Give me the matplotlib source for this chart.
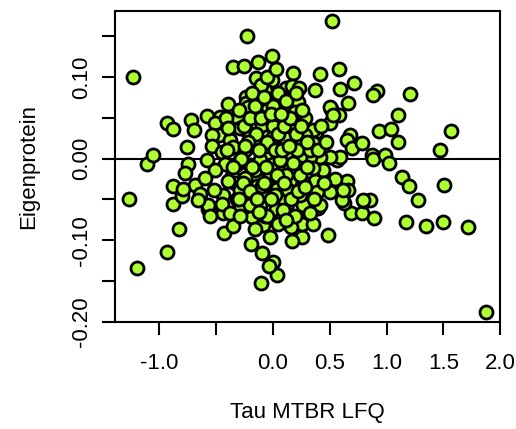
import matplotlib.pyplot as plt

# Tau MTBR LFQ (x) vs Eigenprotein (y)
tau_mtbr = [
    -1.232, -1.268, -1.197, -1.109, -1.056, -0.933, -0.933, -0.880, -0.827, -0.880,
    -0.880, -0.801, -0.757, -0.722, -0.695, -0.748, -0.775, -0.581, -0.396, -0.352,
    -0.255, -0.229, -0.581, -0.572, -0.431, -0.352, -0.194, -0.106, -0.097, 0.000,
    0.035, -0.035, -0.185, -0.088, -0.026, -0.449, -0.440, -0.290, -0.114, 0.026,
    0.255, 0.484, 0.255, 0.352, 0.158, 0.079, 0.123, 0.396, 0.687, 0.783,
    0.889, 0.625, 0.801, 1.171, 1.347, 1.496, 1.717, 1.875, 1.276, 0.915,
    0.880, 1.206, 1.100, 0.933, 1.039, 1.567, 1.100, 1.470, 0.871, 0.880,
    0.986, 1.021, 1.136, 1.197, 1.505, 0.854, 0.519, -0.009, -0.132, 0.176,
    0.414, 0.581, 0.713, 0.370, 0.590, 0.660, 0.511, 0.581, 0.502, 0.678,
    0.651, 0.695, 0.783, 0.379, 0.651, 0.660, 0.792, 0.502, 0.546, 0.414,
    0.370, 0.563, -0.009, -0.150, 0.114, 0.167, 0.229, 0.132, 0.220, 0.018,
    0.079, 0.282, 0.502, -0.238, -0.238, -0.114, -0.062, -0.053, 0.000, -0.158,
    -0.220, -0.467, -0.317, -0.511, -0.414, -0.475, -0.379, -0.537, -0.238, -0.070,
    -0.044, -0.132, -0.537, -0.449, -0.352, -0.246, -0.132, -0.044, -0.687, -0.792,
    -0.643, -0.572, -0.440, -0.449, -0.361, -0.335, -0.396, -0.317, -0.229, -0.141,
    -0.141, -0.053, -0.026, -0.044, -0.202, -0.317, -0.202, 0.528, 0.590, 0.502,
    0.414, 0.326, 0.440, 0.607, 0.616, 0.264, 0.387, 0.414, 0.150, 0.106,
    0.035, 0.106, 0.264, 0.035, 0.123, 0.220, 0.352, 0.150, 0.255, 0.352,
    0.000, 0.035, 0.150, 0.238, 0.000, 0.088, 0.238, 0.352, 0.176, -0.097,
    -0.097, 0.062, 0.167, -0.158, -0.070, 0.106, 0.211, -0.114, -0.026, 0.062,
    0.150, -0.158, -0.246, 0.018, 0.132, 0.238, -0.097, -0.202, -0.290, 0.106,
    0.194, 0.282, 0.326, -0.070, 0.088, 0.194, 0.326, 0.167, -0.290, -0.396,
    -0.290, -0.423, -0.511, -0.599, -0.660, -0.519, -0.555, -0.379, -0.158, -0.290,
    -0.070,
    # dense core
    -0.30, -0.25, -0.20, -0.15, -0.10, -0.05, 0.00, 0.05, 0.10, 0.15,
    0.20, 0.25, 0.30, -0.28, -0.22, -0.18, -0.12, -0.06, 0.02, 0.08,
    0.12, 0.18, 0.24, 0.30, -0.26, -0.20, -0.14, -0.08, -0.02, 0.04,
    0.10, 0.16, 0.22, 0.28, -0.10, 0.05, 0.12, -0.05, 0.20, 0.03,
    -0.18, -0.35, -0.40, -0.30, -0.05, 0.05, 0.12, -0.12, 0.40, 0.45,
    0.42, 0.36, 0.47, -0.02, 0.07, -0.16, 0.26, -0.08, 0.14, -0.24,
]
eigenprotein = [
    0.100, -0.050, -0.134, -0.006, 0.004, -0.114, 0.043, 0.036, -0.086, -0.034,
    -0.056, -0.046, 0.014, 0.047, 0.035, -0.007, -0.018, 0.052, 0.067, 0.112,
    0.113, 0.150, -0.002, -0.062, -0.091, -0.083, -0.104, -0.152, -0.116, -0.126,
    -0.143, -0.131, -0.072, -0.081, -0.096, -0.060, -0.066, -0.057, -0.057, -0.062,
    -0.096, -0.094, -0.080, -0.080, -0.084, -0.073, -0.055, -0.060, -0.066, -0.066,
    -0.073, -0.054, -0.052, -0.077, -0.083, -0.078, -0.084, -0.188, -0.051, 0.083,
    0.078, 0.079, 0.053, 0.034, 0.036, 0.034, 0.020, 0.011, 0.005, -0.001,
    0.005, -0.005, -0.022, -0.034, -0.032, -0.051, 0.168, 0.126, 0.118, 0.105,
    0.104, 0.110, 0.093, 0.084, 0.085, 0.068, 0.061, 0.053, 0.043, 0.029,
    0.023, 0.013, 0.019, 0.032, -0.027, -0.039, -0.051, -0.041, -0.025, -0.013,
    -0.027, -0.002, 0.096, 0.099, 0.086, 0.089, 0.086, 0.072, 0.069, 0.066,
    0.075, 0.050, 0.063, 0.075, 0.068, 0.077, 0.072, 0.059, 0.064, 0.062,
    0.063, 0.051, 0.051, 0.043, 0.050, 0.029, 0.023, 0.029, 0.035, 0.031,
    0.043, 0.053, 0.015, 0.008, 0.014, 0.010, 0.013, 0.007, -0.032, -0.037,
    -0.043, -0.057, -0.045, -0.055, -0.021, -0.030, -0.027, -0.049, -0.041, -0.021,
    -0.033, -0.014, -0.030, -0.045, -0.008, -0.006, 0.029, 0.053, 0.002, 0.002,
    0.002, 0.002, -0.014, -0.051, -0.039, -0.029, -0.041, -0.057, -0.027, -0.014,
    -0.037, -0.052, -0.057, 0.051, 0.051, 0.041, 0.035, 0.020, 0.019, 0.019,
    0.026, 0.010, 0.002, 0.002, -0.006, -0.014, -0.011, -0.012, -0.043, -0.044,
    0.041, 0.037, 0.035, 0.022, 0.016, 0.025, 0.010, -0.002, -0.021, -0.002,
    -0.012, -0.014, -0.024, -0.045, -0.039, -0.045, -0.033, -0.057, -0.039, 0.057,
    0.057, 0.029, 0.010, -0.070, -0.063, -0.070, -0.066, -0.101, 0.037, 0.037,
    -0.002, -0.006, -0.014, -0.024, -0.051, -0.039, -0.070, -0.066, -0.086, -0.070,
    0.084,
    # dense core
    0.060, 0.040, 0.050, 0.030, 0.050, 0.020, 0.040, 0.030, 0.040, 0.050,
    0.030, 0.040, 0.020, 0.000, 0.020, -0.010, 0.010, -0.010, 0.010, 0.010,
    -0.020, -0.005, -0.020, -0.010, -0.030, -0.040, -0.050, -0.030, -0.050, -0.020,
    -0.030, -0.050, -0.040, -0.035, 0.090, 0.080, 0.070, 0.100, 0.080, 0.110,
    0.080, -0.010, 0.010, -0.050, -0.070, -0.080, -0.075, -0.065, 0.010, -0.030,
    0.040, -0.050, 0.020, 0.055, 0.055, 0.065, 0.060, 0.075, 0.015, 0.015,
]

x_ticks = [-1.0, -0.5, 0.0, 0.5, 1.0, 1.5, 2.0]
x_labels = ['-1.0', '', '0.0', '0.5', '1.0', '1.5', '2.0']
y_ticks = [-0.20, -0.15, -0.10, -0.05, 0.00, 0.05, 0.10, 0.15]
y_labels = ['-0.20', '', '-0.10', '', '0.00', '', '0.10', '']

plt.rcParams['font.family'] = ['Liberation Sans', 'DejaVu Sans']

fig = plt.figure(figsize=(5.16, 4.29), dpi=100)
ax = fig.add_axes([0.2229, 0.2494, 0.7466, 0.7250])

ax.axhline(0, color='black', linewidth=1.5, zorder=1)
ax.scatter(tau_mtbr, eigenprotein, s=88, c='#ADFF2F', edgecolors='black',
           linewidths=2.0, zorder=2)

ax.set_xlim(-1.387, 2.0)
ax.set_ylim(-0.2, 0.1807)

ax.set_xticks(x_ticks)
ax.set_xticklabels(x_labels)
ax.set_yticks(y_ticks)
ax.set_yticklabels(y_labels, rotation=90, va='center')

ax.tick_params(axis='both', length=9.5, width=1.5, labelsize=16, color='black')
ax.tick_params(axis='x', pad=13)
ax.tick_params(axis='y', pad=7)
for side in ax.spines.values():
    side.set_linewidth(1.5)

ax.set_xlabel('Tau MTBR LFQ', fontsize=16, labelpad=20)
ax.set_ylabel('Eigenprotein', fontsize=16, labelpad=23)

fig.savefig('out.png', dpi=100)
